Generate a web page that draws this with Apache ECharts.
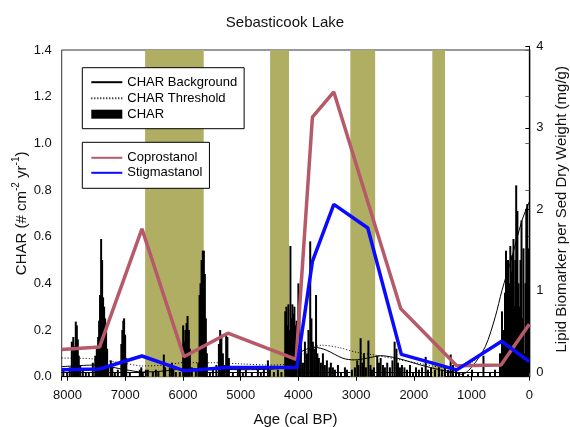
<!DOCTYPE html>
<html>
<head>
<meta charset="utf-8">
<script src="https://cdn.jsdelivr.net/npm/echarts@6/dist/echarts.min.js"></script>
<style>html,body{margin:0;padding:0;background:#fff;}#c{width:570px;height:427px;}</style>
</head>
<body>
<div id="c"></div>
<script>
// ---- data ----
const xTicks = [8000, 7000, 6000, 5000, 4000, 3000, 2000, 1000, 0];
const charAges = [8072,8006,7960,7925,7899,7873,7856,7838,7821,7804,7778,7734,7682,7630,7561,7518,7492,7469,7452,7436,7417,7400,7383,7365,7348,7331,7313,7293,7249,7223,7180,7128,7067,7050,7033,7019,7001,6981,6920,6747,6721,6695,6643,6608,6521,6469,6426,6331,6308,6227,6192,6166,6123,6054,5996,5975,5958,5937,5920,5897,5880,5845,5776,5733,5712,5695,5677,5655,5637,5620,5603,5585,5533,5481,5421,5377,5355,5334,5308,5282,5251,5230,5204,5135,5048,5013,4962,4910,4806,4702,4650,4598,4528,4494,4424,4355,4294,4228,4208,4190,4173,4156,4138,4121,4104,4086,4069,4052,4031,4000,3982,3956,3921,3887,3852,3826,3795,3774,3749,3723,3694,3671,3645,3610,3575,3541,3506,3463,3437,3402,3367,3315,3263,3194,3159,3073,3021,2981,2960,2922,2891,2865,2830,2787,2752,2726,2691,2634,2605,2575,2535,2501,2461,2414,2371,2333,2301,2275,2241,2206,2163,2119,2067,2015,1963,1912,1859,1795,1755,1703,1634,1565,1513,1461,1409,1362,1322,1270,1218,1149,1062,993,889,794,681,594,508,473,447,421,404,386,369,352,329,312,296,274,256,243,227,206,187,170,153,135,118,101,83,66,52,35,17];
const charValues = [0.03,0.02,0.04,0.15,0.17,0.13,0.236,0.22,0.16,0.09,0.05,0.03,0.02,0.02,0.06,0.09,0.12,0.17,0.24,0.35,0.59,0.5,0.34,0.3,0.25,0.22,0.12,0.05,0.07,0.04,0.02,0.03,0.14,0.2,0.24,0.25,0.18,0.08,0.02,0.03,0.04,0.02,0.03,0.03,0.02,0.03,0.02,0.095,0.04,0.04,0.06,0.03,0.02,0.02,0.22,0.15,0.2,0.23,0.26,0.2,0.12,0.04,0.03,0.06,0.35,0.4,0.5,0.54,0.54,0.44,0.25,0.1,0.02,0.03,0.05,0.14,0.2,0.18,0.1,0.05,0.18,0.17,0.08,0.02,0.03,0.04,0.02,0.03,0.02,0.03,0.02,0.04,0.07,0.03,0.02,0.03,0.02,0.28,0.3,0.22,0.31,0.2,0.56,0.25,0.31,0.27,0.3,0.22,0.24,0.4,0.3,0.15,0.06,0.15,0.1,0.2,0.58,0.25,0.15,0.12,0.35,0.1,0.08,0.06,0.1,0.05,0.07,0.04,0.06,0.04,0.03,0.05,0.02,0.04,0.03,0.03,0.04,0.07,0.05,0.165,0.06,0.1,0.04,0.155,0.05,0.03,0.04,0.09,0.06,0.08,0.05,0.04,0.06,0.04,0.07,0.15,0.12,0.06,0.04,0.05,0.04,0.03,0.05,0.02,0.04,0.03,0.04,0.085,0.03,0.04,0.03,0.04,0.03,0.04,0.03,0.095,0.05,0.03,0.02,0.02,0.01,0.03,0.02,0.09,0.02,0.03,0.1,0.28,0.2,0.36,0.54,0.45,0.5,0.4,0.56,0.45,0.52,0.59,0.3,0.5,0.82,0.71,0.4,0.3,0.5,0.67,0.25,0.55,0.1,0.4,0.72,0.74,0.55];
const bgAges = [8100,7500,7000,6700,6300,6000,5000,4300,4000,3722,3519,3230,3035,2800,2572,2285,1880,1534,1304,1165,992,762,589,473,300,126,0];
const bgValues = [0.043,0.05,0.03,0.02,0.025,0.035,0.03,0.036,0.1,0.126,0.114,0.079,0.072,0.08,0.09,0.079,0.05,0.029,0.02,0.01,0.043,0.129,0.257,0.37,0.514,0.67,0.75];
const thrAges = [8100,7600,7000,6700,6300,6000,5500,5000,4500,4200,3900,3600,3300,3000,2688,2300,1880,1534,1250,1000,800];
const thrValues = [0.08,0.077,0.057,0.046,0.05,0.06,0.06,0.055,0.05,0.054,0.1,0.135,0.125,0.105,0.093,0.075,0.056,0.04,0.035,0.06,0.11];
const coproAges = [8100,7445,6710,5983,5222,4039,3757,3386,2226,1257,490,0];
const coproValues = [0.28,0.31,1.76,0.19,0.48,0.16,3.13,3.44,0.78,0.08,0.09,0.59];
const stigAges = [8100,7445,6710,5983,5222,4027,3757,3386,2798,2216,1257,478,0];
const stigValues = [0.03,0.04,0.2,0.02,0.06,0.06,1.36,2.06,1.77,0.22,0.03,0.38,0.13];
const bandStarts = [6655, 4490, 3100, 1680];
const bandEnds = [5640, 4162, 2670, 1460];

const pair = (xs, ys) => xs.map((x, i) => [x, ys[i]]);
const FONT = "'Liberation Sans', Arial, sans-serif";

const chart = echarts.init(document.getElementById('c'), null, {renderer: 'canvas'});
const xCommon = {
  type: 'value', min: 0, max: 8100, interval: 1000, inverse: true
};
const noSym = {opacity: 0};
chart.setOption({
  animation: false,
  backgroundColor: '#ffffff',
  textStyle: {fontFamily: FONT},
  title: {
    text: 'Sebasticook Lake', left: 'center', top: 10,
    textStyle: {fontFamily: FONT, fontSize: 15, fontWeight: 'normal', color: '#111'}
  },
  grid: [
    {left: 61.7, right: 40.7, top: 50, bottom: 50.3, containLabel: false, outerBoundsMode: 'none',
     show: true, borderColor: '#333', borderWidth: 1, backgroundColor: 'transparent'},
    {left: 61.7, right: 40.7, top: 46.3, bottom: 54.7, containLabel: false, outerBoundsMode: 'none', show: false}
  ],
  legend: [
    {
      data: [{name: 'CHAR Background', itemStyle: noSym}, {name: 'CHAR Threshold', itemStyle: noSym}, {name: 'CHAR', icon: 'rect'}],
      orient: 'vertical', left: 82.3, top: 67.7,
      padding: [8, 7, 8, 8], itemGap: 3, itemWidth: 31, itemHeight: 9,
      borderColor: '#000', borderWidth: 1, backgroundColor: '#fff',
      textStyle: {fontFamily: FONT, fontSize: 13, color: '#000'},
      selectedMode: false
    },
    {
      data: [{name: 'Coprostanol', itemStyle: noSym}, {name: 'Stigmastanol', itemStyle: noSym}],
      orient: 'vertical', left: 82.3, top: 142.3,
      padding: [9, 7, 9, 8], itemGap: 2, itemWidth: 31, itemHeight: 9,
      borderColor: '#000', borderWidth: 1, backgroundColor: '#fff',
      textStyle: {fontFamily: FONT, fontSize: 13, color: '#000'},
      selectedMode: false
    }
  ],
  xAxis: [
    Object.assign({}, xCommon, {
      gridIndex: 0,
      name: 'Age (cal BP)', nameLocation: 'middle', nameGap: 36, nameMoveOverlap: false,
      nameTextStyle: {fontFamily: FONT, fontSize: 15, color: '#111'},
      axisLine: {show: true, onZero: false, lineStyle: {color: '#000', width: 1}},
      axisTick: {show: true, inside: false, length: 4, lineStyle: {color: '#000'}},
      axisLabel: {fontFamily: FONT, fontSize: 13, color: '#111', margin: 12,
        formatter: v => (xTicks.indexOf(v) >= 0 ? String(v) : '')},
      splitLine: {show: false}
    }),
    Object.assign({}, xCommon, {
      gridIndex: 1,
      axisLine: {show: true, onZero: false, lineStyle: {color: '#000', width: 1}},
      axisTick: {show: false}, axisLabel: {show: false}, splitLine: {show: false}
    })
  ],
  yAxis: [
    {
      type: 'value', gridIndex: 0, min: 0, max: 1.4, interval: 0.2, position: 'left',
      name: '{n|CHAR (# cm}{s|-2}{n| yr}{s|-1}{n|)}',
      nameLocation: 'middle', nameGap: 32, nameRotate: 90, nameMoveOverlap: false,
      nameTextStyle: {
        rich: {
          n: {fontFamily: FONT, fontSize: 15, color: '#111', lineHeight: 18, verticalAlign: 'bottom'},
          s: {fontFamily: FONT, fontSize: 10, color: '#111', lineHeight: 18, verticalAlign: 'top'}
        }
      },
      axisLine: {show: true, lineStyle: {color: '#888', width: 1.5}},
      axisTick: {show: true, inside: false, length: 4, lineStyle: {color: '#666'}},
      axisLabel: {fontFamily: FONT, fontSize: 13, color: '#111', margin: 10,
        formatter: v => v.toFixed(1)},
      splitLine: {show: false}
    },
    {
      type: 'value', gridIndex: 1, min: 0, max: 4, interval: 1, position: 'right',
      name: 'Lipid Biomarker per Sed Dry Weight (mg/g)',
      nameLocation: 'middle', nameGap: 23, nameRotate: 90,
      nameTextStyle: {fontFamily: FONT, fontSize: 15, color: '#111'},
      axisLine: {show: true, lineStyle: {color: '#000', width: 1}},
      axisTick: {show: true, inside: true, length: 4, lineStyle: {color: '#000'}},
      axisLabel: {fontFamily: FONT, fontSize: 13, color: '#111', margin: 7},
      splitLine: {show: false}
    }
  ],
  series: [
    {
      name: 'CHAR', type: 'bar', xAxisIndex: 0, yAxisIndex: 0,
      data: pair(charAges, charValues), barWidth: 2,
      itemStyle: {color: '#000'}, z: 3,
      markArea: {
        silent: true,
        itemStyle: {color: '#b0ae62', opacity: 1},
        data: bandStarts.map((s, i) => [{xAxis: s}, {xAxis: bandEnds[i]}])
      }
    },
    {
      name: 'CHAR Background', type: 'line', xAxisIndex: 0, yAxisIndex: 0,
      data: pair(bgAges, bgValues), symbol: 'none', smooth: 0.3, z: 4,
      lineStyle: {color: '#000', width: 1}, itemStyle: {color: '#000'}
    },
    {
      name: 'CHAR Threshold', type: 'line', xAxisIndex: 0, yAxisIndex: 0,
      data: pair(thrAges, thrValues), symbol: 'none', smooth: 0.3, z: 4,
      lineStyle: {color: '#000', width: 1, type: [1, 2]}, itemStyle: {color: '#000'}
    },
    {
      name: 'Coprostanol', type: 'line', xAxisIndex: 1, yAxisIndex: 1,
      data: pair(coproAges, coproValues), symbol: 'none', z: 5,
      lineStyle: {color: '#b65a6a', width: 3.5}, itemStyle: {color: '#b65a6a'}
    },
    {
      name: 'Stigmastanol', type: 'line', xAxisIndex: 1, yAxisIndex: 1,
      data: pair(stigAges, stigValues), symbol: 'none', z: 6,
      lineStyle: {color: '#0a0aff', width: 3.5}, itemStyle: {color: '#0a0aff'}
    }
  ]
});
</script>
</body>
</html>
